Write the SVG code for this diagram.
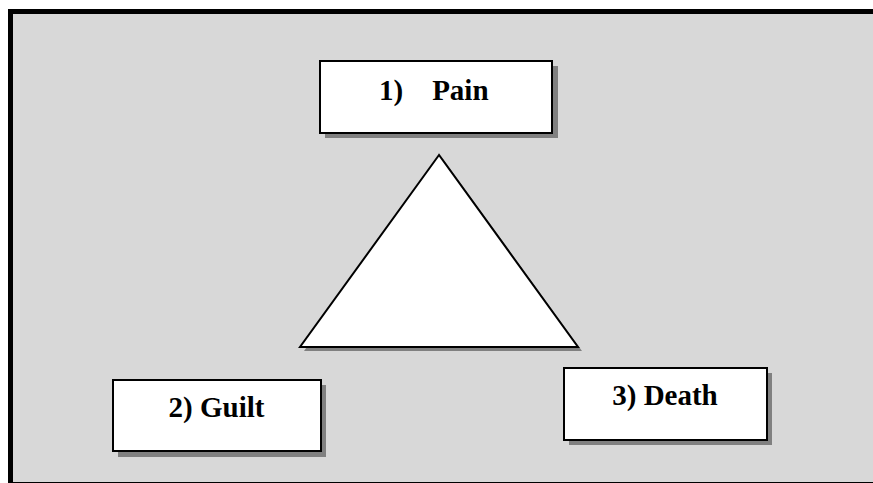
<svg xmlns="http://www.w3.org/2000/svg" width="873" height="483" viewBox="0 0 873 483">
<style>
.box{fill:#ffffff;stroke:#000000;stroke-width:2}
.shadow{fill:#808080}
.lbl{font-family:"Liberation Serif","Times New Roman",serif;font-weight:bold;font-size:29px;fill:#000000}
</style>
<rect x="0" y="0" width="873" height="483" fill="#ffffff"/>
<rect x="10.5" y="11.5" width="870" height="473" fill="#d8d8d8" stroke="#000000" stroke-width="5"/>
<g id="triangle">
<polygon class="shadow" points="443,159 304,351 582,351"/>
<polygon class="box" points="439,155 300,347 578,347"/>
</g>
<g id="pain">
<rect class="shadow" x="325" y="66" width="233" height="72"/>
<rect class="box" x="320" y="61" width="232" height="72"/>
<text class="lbl" x="379" y="100" xml:space="preserve">1)    Pain</text>
</g>
<g id="guilt">
<rect class="shadow" x="118" y="385" width="208" height="72"/>
<rect class="box" x="113" y="380" width="208" height="71"/>
<text class="lbl" x="216.5" y="417" text-anchor="middle">2) Guilt</text>
</g>
<g id="death">
<rect class="shadow" x="569" y="373" width="203" height="72"/>
<rect class="box" x="564" y="368" width="203" height="72"/>
<text class="lbl" x="665" y="405" text-anchor="middle">3) Death</text>
</g>
<g id="connectors"></g>
</svg>
